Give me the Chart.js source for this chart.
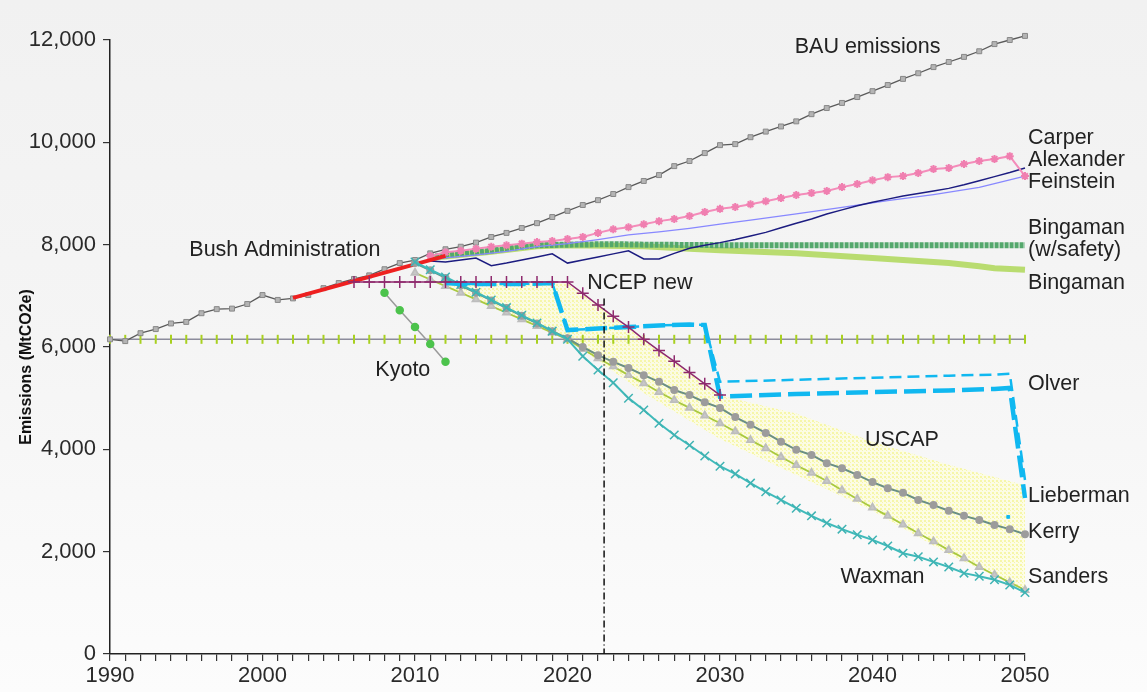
<!DOCTYPE html>
<html>
<head>
<meta charset="utf-8">
<script src="https://cdn.jsdelivr.net/npm/chart.js@4/dist/chart.umd.min.js"></script>
<style>
html,body{margin:0;padding:0;background:#f6f6f6;}
canvas{display:block;}
</style>
</head>
<body>
<canvas id="c" width="1147" height="692"></canvas>
<script>
// ---------------- DATA ----------------
const bauStart = 1990;
const bauValues = [6150,6115,6270,6350,6460,6490,6660,6740,6750,6840,7015,6920,6950,7015,7150,7250,7330,7400,7520,7640,
  7700,7830,7910,7960,8040,8150,8230,8325,8420,8540,8660,8775,8870,8990,9125,9245,9360,9535,9635,9790,
  9945,9965,10100,10210,10310,10410,10550,10670,10770,10885,11000,11120,11240,11350,11470,11570,11670,11780,11920,12000,12080];

const kyotoLevelStart = 1990;
const kyotoLevelValues = [6150,6150,6150,6150,6150,6150,6150,6150,6150,6150,6150,6150,6150,6150,6150,6150,6150,6150,6150,6150,
  6150,6150,6150,6150,6150,6150,6150,6150,6150,6150,6150,6150,6150,6150,6150,6150,6150,6150,6150,6150,
  6150,6150,6150,6150,6150,6150,6150,6150,6150,6150,6150,6150,6150,6150,6150,6150,6150,6150,6150,6150,6150];

const kyotoYears = [2008,2009,2010,2011,2012];
const kyotoValues = [7060,6720,6390,6060,5710];

const bushYears = [2002,2012];
const bushValues = [6960,7780];

const ncepStart = 2006;
const ncepValues = [7270,7270,7270,7270,7270,7270,7270,7270,7270,7270,7270,7270,7270,7270,7270,
  7050,6820,6600,6390,6150,5930,5720,5500,5280,5060];

const carperStart = 2011;
const carperValues = [7780,7850,7880,7920,7960,7990,8020,8050,8070,8110,8150,8230,8300,8340,8400,8460,8500,8560,8640,8700,
  8735,8790,8850,8910,8970,9010,9050,9125,9185,9260,9320,9340,9400,9480,9500,9575,9635,9675,9730,9340];

const alexanderStart = 2011;
const alexanderValues = [7680,7660,7700,7740,7590,7640,7700,7760,7820,7640,7700,7760,7820,7880,7720,7720,7830,7930,7990,8040,
  8100,8170,8240,8330,8420,8500,8600,8680,8760,8830,8890,8950,9000,9050,9100,9170,9250,9330,9410,9500];

const feinsteinYears = [2011,2012,2014,2016,2018,2020,2022,2024,2026,2028,2030,2032,2035,2038,2041,2044,2047,2050];
const feinsteinValues = [7700,7740,7800,7870,7960,8020,8100,8190,8250,8320,8400,8480,8600,8730,8860,8980,9120,9340];

const bingSafeYears = [2011,2012,2013,2014,2015,2016,2017,2018,2020,2023,2025,2030,2050];
const bingSafeValues = [7760,7790,7820,7850,7880,7920,7960,7990,8000,8010,8000,7990,7990];

const bingYears = [2011,2015,2018,2020,2025,2028,2030,2035,2040,2045,2047,2048,2050];
const bingValues = [7740,7860,7970,7990,7970,7920,7890,7830,7740,7640,7580,7540,7510];

const liebYears = [2012,2013,2015,2017,2019,2020,2022,2024,2026,2028,2029,2030,2035,2040,2045,2048,2049,2050];
const liebValues = [7250,7230,7230,7230,7250,6330,6360,6390,6420,6440,6430,5030,5080,5120,5150,5180,5200,3050];

const olverYears = [2012,2013,2015,2017,2019,2020,2022,2024,2026,2028,2029,2030,2035,2040,2045,2048,2049,2050];
const olverValues = [7250,7230,7230,7230,7250,6330,6360,6390,6420,6440,6430,5320,5360,5400,5440,5460,5480,3400];

const strayYears = [2048.9];
const strayValues = [2680];

const kerryStart = 2010;
const kerryValues = [7640,7500,7350,7200,7060,6910,6760,6610,6460,6310,6170,6000,5840,5710,5590,5450,5320,5160,5060,4920,
  4810,4630,4480,4320,4150,3990,3890,3730,3630,3500,3360,3240,3150,3010,2910,2800,2700,2620,2520,2440,2340];

const sandersStart = 2010;
const sandersValues = [7450,7320,7190,7060,6930,6800,6670,6540,6410,6280,6150,5960,5780,5620,5450,5290,5120,4960,4810,4660,
  4510,4350,4180,4020,3850,3690,3540,3380,3200,3030,2860,2700,2530,2360,2200,2030,1870,1700,1550,1400,1250];

const waxmanStart = 2010;
const waxmanValues = [7660,7510,7370,7220,7070,6920,6770,6620,6470,6310,6150,5820,5550,5300,5000,4770,4510,4280,4080,3870,
  3670,3520,3340,3170,3010,2850,2700,2560,2440,2330,2230,2110,1970,1900,1800,1700,1580,1520,1450,1350,1200];

const uscapYears = [2012,2020,2025,2030,2035,2040,2045,2050];
const uscapUpper = [7250,7250,6150,5050,4700,4150,3700,3300];
const uscapLower = [7200,6150,5100,4200,3500,2800,1950,1250];

const markerYears = [2022.4,2022.4];
const markerValues = [6950,0];

const yTicks = [0,2000,4000,6000,8000,10000,12000];
const xTickLabels = [1990,2000,2010,2020,2030,2040,2050];

const annotations = [
  {t:'BAU emissions', x:2034.9, y:11860},
  {t:'Carper', x:2050.2, y:10085},
  {t:'Alexander', x:2050.2, y:9655},
  {t:'Feinstein', x:2050.2, y:9225},
  {t:'Bingaman', x:2050.2, y:8325},
  {t:'(w/safety)', x:2050.2, y:7895},
  {t:'Bingaman', x:2050.2, y:7250},
  {t:'Olver', x:2050.2, y:5275},
  {t:'USCAP', x:2039.5, y:4180},
  {t:'Lieberman', x:2050.2, y:3090},
  {t:'Kerry', x:2050.2, y:2385},
  {t:'Sanders', x:2050.2, y:1505},
  {t:'Waxman', x:2037.9, y:1505},
  {t:'Bush Administration', x:1995.2, y:7895},
  {t:'NCEP new', x:2021.3, y:7250},
  {t:'Kyoto', x:2007.4, y:5550}
];

// ---------------- helpers ----------------
const fromStart = (start, vals) => vals.map((v,i) => ({x:start+i, y:v}));
const fromPairs = (xs, vals) => vals.map((v,i) => ({x:xs[i], y:v}));

function dotPattern(){
  const p = document.createElement('canvas');
  p.width = 4; p.height = 4;
  const g = p.getContext('2d');
  g.fillStyle = 'rgba(255,255,215,0.6)';
  g.fillRect(0,0,4,4);
  g.fillStyle = 'rgba(242,242,130,0.6)';
  g.fillRect(0,0,2,2);
  g.fillRect(2,2,1,1);
  return g.createPattern(p,'repeat');
}

const FONT = '"Liberation Sans", Arial, Helvetica, sans-serif';
Chart.defaults.font.family = FONT;
Chart.defaults.font.size = 22;
Chart.defaults.color = '#2a2a2a';

const bgPlugin = {
  id:'bg',
  beforeDraw(chart){
    const {ctx, width, height} = chart;
    const g = ctx.createLinearGradient(0,0,0,height);
    g.addColorStop(0,'#f1f1f1');
    g.addColorStop(0.5,'#f5f5f5');
    g.addColorStop(1,'#fcfcfc');
    ctx.save();
    ctx.fillStyle = g;
    ctx.fillRect(0,0,width,height);
    ctx.restore();
  }
};

const textPlugin = {
  id:'texts',
  afterDatasetsDraw(chart){
    const {ctx, scales:{x, y}} = chart;
    ctx.save();
    ctx.fillStyle = '#222';
    ctx.font = '21.5px ' + FONT;
    ctx.textAlign = 'left';
    ctx.textBaseline = 'middle';
    annotations.forEach(a => {
      ctx.fillText(a.t, x.getPixelForValue(a.x), y.getPixelForValue(a.y));
    });
    // axis title
    ctx.translate(27, 367);
    ctx.rotate(-Math.PI/2);
    ctx.textAlign = 'center';
    ctx.font = 'bold 16px ' + FONT;
    ctx.fillStyle = '#111';
    ctx.fillText('Emissions (MtCO2e)', 0, 0);
    ctx.restore();
  }
};

const ds = [
  { label:'USCAP upper', data: fromPairs(uscapYears, uscapUpper), borderWidth:0, pointRadius:0,
    fill:{target:'+1'}, backgroundColor: dotPattern(), order:50, tension:0 },
  { label:'USCAP lower', data: fromPairs(uscapYears, uscapLower), borderWidth:0, pointRadius:0, fill:false, order:51 },
  { label:'Kyoto level', data: fromStart(kyotoLevelStart, kyotoLevelValues), borderColor:'#8c8c9c', borderWidth:1.5,
    pointStyle:'line', rotation:90, pointRadius:4.5, pointBorderColor:'#a8d020', pointBorderWidth:2, order:40 },
  { label:'BAU emissions', data: fromStart(bauStart, bauValues), borderColor:'#5a5a5a', borderWidth:1.3,
    pointStyle:'rect', pointRadius:3.5, pointBackgroundColor:'#b4b4b4', pointBorderColor:'#888', pointBorderWidth:1, order:30 },
  { label:'Bingaman', data: fromPairs(bingYears, bingValues), borderColor:'#b9dc70', borderWidth:6, pointRadius:0, order:29 },
  { label:'Bingaman (w/safety)', data: fromPairs(bingSafeYears, bingSafeValues), borderColor:'#54a86c', borderWidth:6,
    borderDash:[4,1], pointRadius:0, order:28 },
  { label:'Feinstein', data: fromPairs(feinsteinYears, feinsteinValues), borderColor:'#8888ff', borderWidth:1.3, pointRadius:0, order:27 },
  { label:'Alexander', data: fromStart(alexanderStart, alexanderValues), borderColor:'#1c1c80', borderWidth:1.5, pointRadius:0, order:26 },
  { label:'Carper', data: fromStart(carperStart, carperValues), borderColor:'#f48cba', borderWidth:2,
    pointStyle:'star', pointRadius:4, pointBorderColor:'#f07fb0', pointBorderWidth:2, order:25 },
  { label:'Bush Administration', data: fromPairs(bushYears, bushValues), borderColor:'#ee2020', borderWidth:4, pointRadius:0, order:20 },
  { label:'Kyoto', data: fromPairs(kyotoYears, kyotoValues), borderColor:'#9a9a9a', borderWidth:1.5,
    pointStyle:'circle', pointRadius:3.5, pointBackgroundColor:'#4cc34c', pointBorderColor:'#4cc34c', order:19 },
  { label:'Sanders', data: fromStart(sandersStart, sandersValues), borderColor:'#a9c93f', borderWidth:1.8,
    pointStyle:'triangle', pointRadius:4, pointBackgroundColor:'#c8c8c8', pointBorderColor:'#bdbdbd', order:18 },
  { label:'Kerry', data: fromStart(kerryStart, kerryValues), borderColor:'#6a8f84', borderWidth:2,
    pointStyle:'circle', pointRadius:3, pointBackgroundColor:'#9c9c9c', pointBorderColor:'#9c9c9c', order:17 },
  { label:'Waxman', data: fromStart(waxmanStart, waxmanValues), borderColor:'#3fbaba', borderWidth:2,
    pointStyle:'crossRot', pointRadius:6, pointBorderColor:'#3fb3b3', pointBorderWidth:1.5, order:16 },
  { label:'Olver', data: fromPairs(olverYears, olverValues), borderColor:'#10b8f0', borderWidth:2.5,
    borderDash:[12,6], pointRadius:0, order:15 },
  { label:'Lieberman', data: fromPairs(liebYears, liebValues), borderColor:'#10b8f0', borderWidth:4.5,
    borderDash:[22,7], pointRadius:0, order:14 },
  { label:'stray', data: fromPairs(strayYears, strayValues), showLine:false, pointStyle:'rect', pointRadius:2,
    pointBackgroundColor:'#10b8f0', pointBorderColor:'#10b8f0', order:13 },
  { label:'NCEP new', data: fromStart(ncepStart, ncepValues), borderColor:'#8e2a6e', borderWidth:1.5,
    pointStyle:'cross', pointRadius:6, pointBorderColor:'#8e2a6e', pointBorderWidth:1.5, order:12 },
  { label:'2022', data: fromPairs(markerYears, markerValues), borderColor:'#111', borderWidth:1.5,
    borderDash:[7,3,1,3], pointRadius:0, order:11 }
].map(d => Object.assign({clip:false, tension:0, fill: d.fill === undefined ? false : d.fill}, d));

new Chart(document.getElementById('c'), {
  type:'line',
  data:{ datasets: ds },
  options:{
    responsive:false,
    animation:false,
    devicePixelRatio:1,
    layout:{ padding:{ top:40, right:122, bottom:0, left:0 } },
    plugins:{ legend:{display:false}, tooltip:{enabled:false} },
    elements:{ line:{ borderCapStyle:'butt' } },
    scales:{
      x:{
        type:'linear', min:1990, max:2050,
        afterFit(s){ s.height = 38; },
        grid:{ drawOnChartArea:false, drawTicks:true, tickLength:7, color:'#333', lineWidth:1.2 },
        border:{ display:true, color:'#222', width:1.5 },
        ticks:{
          stepSize:1, autoSkip:false, maxTicksLimit:100, maxRotation:0, padding:2,
          font:{ size:22 }, color:'#2a2a2a',
          callback:(v) => xTickLabels.includes(v) ? String(v) : ''
        }
      },
      y:{
        min:0, max:12000,
        afterFit(s){ s.width = 110; },
        grid:{ drawOnChartArea:false, drawTicks:true, tickLength:7, color:'#333', lineWidth:1.2 },
        border:{ display:true, color:'#222', width:1.5 },
        afterBuildTicks(s){ s.ticks = yTicks.map(v => ({value:v})); },
        ticks:{
          padding:7, font:{ size:22 }, color:'#2a2a2a',
          callback:(v) => Number(v).toLocaleString('en-US')
        }
      }
    }
  },
  plugins:[bgPlugin, textPlugin]
});
</script>
</body>
</html>
